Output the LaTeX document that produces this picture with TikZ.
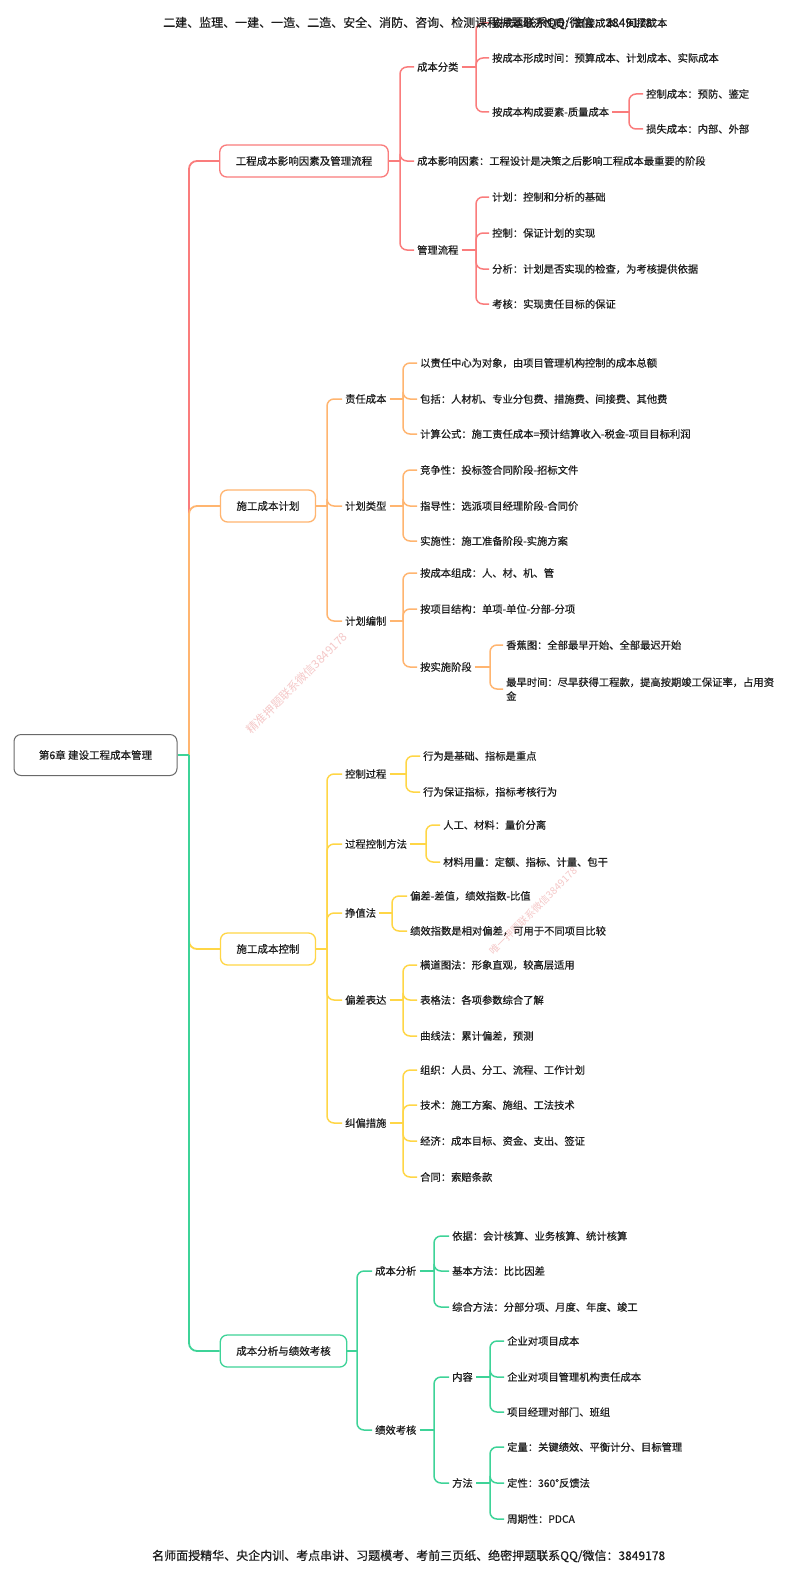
\documentclass[tikz,border=0pt]{standalone}
\usepackage{fontspec}
\setmainfont{Noto Sans CJK SC}[RawFeature={embolden=0.5}]
\newfontfamily\wmfont{Noto Sans CJK SC}
\usepackage{tikz}

\definecolor{brred}{RGB}{250,124,124}
\definecolor{brorange}{RGB}{255,181,112}
\definecolor{bryellow}{RGB}{255,214,70}
\definecolor{brgreen}{RGB}{62,211,152}
\definecolor{rootgray}{RGB}{105,105,105}
\definecolor{txtgray}{RGB}{30,30,30}
\definecolor{wmpink}{RGB}{245,200,200}

\tikzset{
  rootbox/.style={draw=rootgray, line width=1pt, rounded corners=7pt, fill=white,
    minimum width=163pt, minimum height=41pt, text=txtgray, font=\fontsize{10.5}{13}\selectfont},
  topbox/.style={draw=#1, line width=1.3pt, rounded corners=7pt, fill=white,
    minimum height=32pt, inner xsep=16pt, text=txtgray, font=\fontsize{10.5}{13}\selectfont},
  leaf/.style={anchor=west, inner xsep=3pt, inner ysep=2pt, text=txtgray, font=\fontsize{10.3}{14}\selectfont},
  trunk/.style={draw=#1, line width=1.8pt, rounded corners=8pt},
  twig/.style={draw=#1, line width=1.5pt, rounded corners=7pt},
  wmark/.style={rotate=45, inner sep=0pt, text=wmpink, font=\wmfont\fontsize{#1}{13}\selectfont},
}

\begin{document}
\begin{tikzpicture}[x=1pt, y=-1pt]
\fill[white] (0,0) rectangle (800,1576);
\useasboundingbox (0,0) rectangle (800,1576);

% watermarks
\node[wmark=11.5] (wm1) at (297,683) {精准押题联系微信3849178};
\node[wmark=10] (wm2) at (533,911) {唯一押题联系微信3849178};

% root and main branches
\node[rootbox] (root) at (95.5,755) {第6章 建设工程成本管理};
\coordinate (rootj) at (189,755);
\node[topbox=brred] (b1) at (304,161) {工程成本影响因素及管理流程};
\node[topbox=brorange] (b2) at (268,506) {施工成本计划};
\node[topbox=bryellow] (b3) at (268,949) {施工成本控制};
\node[topbox=brgreen] (b4) at (283.5,1351) {成本分析与绩效考核};
\draw[trunk=brred] (rootj) |- (b1.west);
\draw[trunk=bryellow] (rootj) |- (b3.west);
\draw[trunk=brorange] (rootj) |- (b2.west);
\draw[trunk=brgreen] (rootj) |- (b4.west);
\draw[trunk=brgreen] (root.east) -- (rootj);

% branch 1
\node[leaf] (c1) at (414,67) {成本分类};
\node[leaf] (c2) at (414,161) {成本影响因素：工程设计是决策之后影响工程成本最重要的阶段};
\node[leaf] (c3) at (414,250) {管理流程};
\node[leaf] (c11) at (489,23) {按成本经济性质：直接成本、间接成本};
\node[leaf] (c12) at (489,58) {按成本形成时间：预算成本、计划成本、实际成本};
\node[leaf] (c13) at (489,112) {按成本构成要素-质量成本};
\node[leaf] (c131) at (643,94) {控制成本：预防、鉴定};
\node[leaf] (c132) at (643,129) {损失成本：内部、外部};
\node[leaf] (c31) at (489,197) {计划：控制和分析的基础};
\node[leaf] (c32) at (489,233) {控制：保证计划的实现};
\node[leaf] (c33) at (489,269) {分析：计划是否实现的检查，为考核提供依据};
\node[leaf] (c34) at (489,304) {考核：实现责任目标的保证};
\coordinate (b1j) at (400,161);
\coordinate (c1j) at (476,67);
\coordinate (c13j) at (629,112);
\coordinate (c3j) at (476,250);
\draw[twig=brred] (b1.east) -- (b1j);
\foreach \c in {c1,c2,c3} \draw[twig=brred] (b1j) |- (\c.west);
\draw[twig=brred] (c1.east) -- (c1j);
\foreach \c in {c11,c12,c13} \draw[twig=brred] (c1j) |- (\c.west);
\draw[twig=brred] (c13.east) -- (c13j);
\foreach \c in {c131,c132} \draw[twig=brred] (c13j) |- (\c.west);
\draw[twig=brred] (c3.east) -- (c3j);
\foreach \c in {c31,c32,c33,c34} \draw[twig=brred] (c3j) |- (\c.west);

% branch 2
\node[leaf] (d1) at (342,399) {责任成本};
\node[leaf] (d2) at (342,506) {计划类型};
\node[leaf] (d3) at (342,621) {计划编制};
\node[leaf] (d11) at (417,363) {以责任中心为对象，由项目管理机构控制的成本总额};
\node[leaf] (d12) at (417,399) {包括：人材机、专业分包费、措施费、间接费、其他费};
\node[leaf] (d13) at (417,434) {计算公式：施工责任成本=预计结算收入-税金-项目目标利润};
\node[leaf] (d21) at (417,470) {竞争性：投标签合同阶段-招标文件};
\node[leaf] (d22) at (417,506) {指导性：选派项目经理阶段-合同价};
\node[leaf] (d23) at (417,541) {实施性：施工准备阶段-实施方案};
\node[leaf] (d31) at (417,573) {按成本组成：人、材、机、管};
\node[leaf] (d32) at (417,609) {按项目结构：单项-单位-分部-分项};
\node[leaf] (d33) at (417,667) {按实施阶段};
\node[leaf] (d331) at (503,645) {香蕉图：全部最早开始、全部最迟开始};
\node[leaf, align=left] (d332) at (503,689) {最早时间：尽早获得工程款，提高按期竣工保证率，占用资\\金};
\coordinate (b2j) at (327,506);
\coordinate (d1j) at (403,399);
\coordinate (d2j) at (403,506);
\coordinate (d3j) at (403,621);
\coordinate (d33j) at (490,667);
\draw[twig=brorange] (b2.east) -- (b2j);
\foreach \c in {d1,d2,d3} \draw[twig=brorange] (b2j) |- (\c.west);
\draw[twig=brorange] (d1.east) -- (d1j);
\foreach \c in {d11,d12,d13} \draw[twig=brorange] (d1j) |- (\c.west);
\draw[twig=brorange] (d2.east) -- (d2j);
\foreach \c in {d21,d22,d23} \draw[twig=brorange] (d2j) |- (\c.west);
\draw[twig=brorange] (d3.east) -- (d3j);
\foreach \c in {d31,d32,d33} \draw[twig=brorange] (d3j) |- (\c.west);
\draw[twig=brorange] (d33.east) -- (d33j);
\foreach \c in {d331,d332} \draw[twig=brorange] (d33j) |- (\c.west);

% branch 3
\node[leaf] (e1) at (342,774) {控制过程};
\node[leaf] (e2) at (342,844) {过程控制方法};
\node[leaf] (e3) at (342,913) {挣值法};
\node[leaf] (e4) at (342,1000) {偏差表达};
\node[leaf] (e5) at (342,1123) {纠偏措施};
\node[leaf] (e11) at (420,756) {行为是基础、指标是重点};
\node[leaf] (e12) at (420,792) {行为保证指标，指标考核行为};
\node[leaf] (e21) at (440,825) {人工、材料：量价分离};
\node[leaf] (e22) at (440,862) {材料用量：定额、指标、计量、包干};
\node[leaf] (e31) at (407,896) {偏差-差值，绩效指数-比值};
\node[leaf] (e32) at (407,931) {绩效指数是相对偏差，可用于不同项目比较};
\node[leaf] (e41) at (417,965) {横道图法：形象直观，较高层适用};
\node[leaf] (e42) at (417,1000) {表格法：各项参数综合了解};
\node[leaf] (e43) at (417,1036) {曲线法：累计偏差，预测};
\node[leaf] (e51) at (417,1070) {组织：人员、分工、流程、工作计划};
\node[leaf] (e52) at (417,1105) {技术：施工方案、施组、工法技术};
\node[leaf] (e53) at (417,1141) {经济：成本目标、资金、支出、签证};
\node[leaf] (e54) at (417,1177) {合同：索赔条款};
\coordinate (b3j) at (327,949);
\coordinate (e1j) at (406,774);
\coordinate (e2j) at (426,844);
\coordinate (e3j) at (392,913);
\coordinate (e4j) at (403,1000);
\coordinate (e5j) at (403,1123);
\draw[twig=bryellow] (b3.east) -- (b3j);
\foreach \c in {e1,e2,e3,e4,e5} \draw[twig=bryellow] (b3j) |- (\c.west);
\draw[twig=bryellow] (e1.east) -- (e1j);
\foreach \c in {e11,e12} \draw[twig=bryellow] (e1j) |- (\c.west);
\draw[twig=bryellow] (e2.east) -- (e2j);
\foreach \c in {e21,e22} \draw[twig=bryellow] (e2j) |- (\c.west);
\draw[twig=bryellow] (e3.east) -- (e3j);
\foreach \c in {e31,e32} \draw[twig=bryellow] (e3j) |- (\c.west);
\draw[twig=bryellow] (e4.east) -- (e4j);
\foreach \c in {e41,e42,e43} \draw[twig=bryellow] (e4j) |- (\c.west);
\draw[twig=bryellow] (e5.east) -- (e5j);
\foreach \c in {e51,e52,e53,e54} \draw[twig=bryellow] (e5j) |- (\c.west);

% branch 4
\node[leaf] (f1) at (372,1271) {成本分析};
\node[leaf] (f2) at (372,1430) {绩效考核};
\node[leaf] (f11) at (449,1236) {依据：会计核算、业务核算、统计核算};
\node[leaf] (f12) at (449,1271) {基本方法：比比因差};
\node[leaf] (f13) at (449,1307) {综合方法：分部分项、月度、年度、竣工};
\node[leaf] (f21) at (449,1377) {内容};
\node[leaf] (f22) at (449,1483) {方法};
\node[leaf] (f211) at (504,1341) {企业对项目成本};
\node[leaf] (f212) at (504,1377) {企业对项目管理机构责任成本};
\node[leaf] (f213) at (504,1412) {项目经理对部门、班组};
\node[leaf] (f221) at (504,1447) {定量：关键绩效、平衡计分、目标管理};
\node[leaf] (f222) at (504,1483) {定性：360°反馈法};
\node[leaf] (f223) at (504,1519) {周期性：PDCA};
\coordinate (b4j) at (357,1351);
\coordinate (f1j) at (434,1271);
\coordinate (f2j) at (434,1430);
\coordinate (f21j) at (490,1377);
\coordinate (f22j) at (490,1483);
\draw[twig=brgreen] (b4.east) -- (b4j);
\foreach \c in {f1,f2} \draw[twig=brgreen] (b4j) |- (\c.west);
\draw[twig=brgreen] (f1.east) -- (f1j);
\foreach \c in {f11,f12,f13} \draw[twig=brgreen] (f1j) |- (\c.west);
\draw[twig=brgreen] (f2.east) -- (f2j);
\foreach \c in {f21,f22} \draw[twig=brgreen] (f2j) |- (\c.west);
\draw[twig=brgreen] (f21.east) -- (f21j);
\foreach \c in {f211,f212,f213} \draw[twig=brgreen] (f21j) |- (\c.west);
\draw[twig=brgreen] (f22.east) -- (f22j);
\foreach \c in {f221,f222,f223} \draw[twig=brgreen] (f22j) |- (\c.west);

% header and footer
\node[anchor=west, inner sep=0pt, text=txtgray, font=\fontsize{12}{14}\selectfont] (head) at (163,23)
  {二建、监理、一建、一造、二造、安全、消防、咨询、检测课程押题联系QQ/微信：3849178};
\node[anchor=west, inner sep=0pt, text=txtgray, font=\fontsize{12}{14}\selectfont] (foot) at (152,1556)
  {名师面授精华、央企内训、考点串讲、习题模考、考前三页纸、绝密押题联系QQ/微信：3849178};
\end{tikzpicture}
\end{document}
